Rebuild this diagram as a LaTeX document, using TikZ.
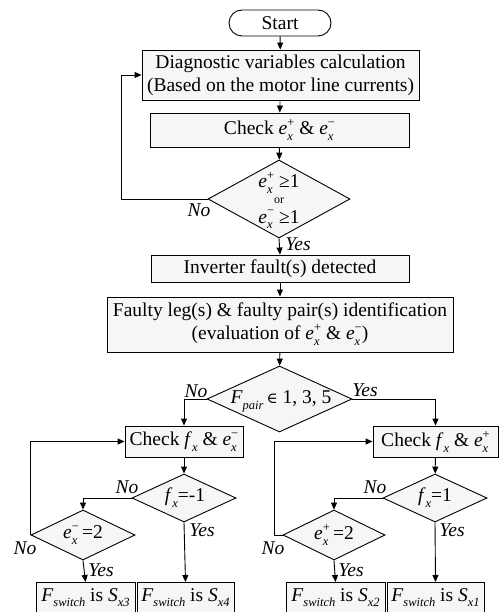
\documentclass[tikz,border=0pt]{standalone}
\usepackage{fontspec}
\setmainfont{Liberation Serif}
\newfontfamily\symf{DejaVu Serif}
\usetikzlibrary{arrows.meta,shapes.geometric}
\newcommand\fs{\fontsize{19.5}{23}\selectfont}
\newcommand\ssz{\fontsize{12.5}{12.5}\selectfont}
\newcommand\ee[1]{\textit{e}\rlap{\raisebox{0.42em}{\ssz#1}}\rlap{\raisebox{-0.3em}{\ssz\textit{x}}}\hphantom{\ssz +}}
\newcommand\fx{\textit{f}\raisebox{-0.3em}{\ssz\textit{x}}}
\newcommand\Fsw[1]{\textit{F}\raisebox{-0.25em}{\ssz\textit{switch}} is \textit{S}\raisebox{-0.25em}{\ssz\textit{x#1}}}
\begin{document}
\begin{tikzpicture}[x=1pt,y=-1pt,
  line width=0.9pt,
  box/.style={draw, fill=gray!7, inner sep=0pt, font=\fs, align=center},
  term/.style={draw, fill=white, rounded corners=13pt, minimum width=102pt, minimum height=26pt, inner sep=0pt, font=\fs},
  dia/.style={draw, diamond, fill=gray!7, inner sep=0pt},
  arr/.style={-{Triangle[length=7pt,width=6pt]}},
  lbl/.style={font=\fs\itshape, inner sep=0pt},
  dtxt/.style={inner sep=0pt, font=\fs},
  sbox/.style={box, minimum height=30pt, anchor=north}]
\useasboundingbox (0,0) rectangle (502,612);
\clip (0,0) rectangle (502,612);
% nodes
\node[term] (start) at (280,23) {Start};
\node[box, minimum width=277pt, minimum height=50pt] (diag) at (280.5,75) {Diagnostic variables calculation\\(Based on the motor line currents)};
\node[box, minimum width=259pt, minimum height=34pt] (chk1) at (279.5,130) {Check \ee{+} \& \ee{−}};
\node[dia, minimum width=142pt, minimum height=78pt] (d1) at (279,199) {};
\node[dtxt, anchor=base] (d1a) at (279,188) {\ee{+} ≥1};
\node[dtxt, anchor=base, font=\fontsize{12}{12}\selectfont] (d1b) at (279,204) {or};
\node[dtxt, anchor=base] (d1c) at (279,223) {\ee{−} ≥1};
\node[box, minimum width=258pt, minimum height=27pt] (inv) at (280,268.5) {Inverter fault(s) detected};
\node[box, minimum width=346pt, minimum height=55pt] (faulty) at (280,324.5) {Faulty leg(s) \& faulty pair(s) identification\\(evaluation of \ee{+} \& \ee{−})};
\node[dia, minimum width=145pt, minimum height=66pt] (d2) at (279.5,399) {};
\node[dtxt] (d2t) at (281,401) {\textit{F}\raisebox{-0.3em}{\ssz\textit{pair}}\,{\symf\fontsize{15}{15}\selectfont ∈} 1, 3, 5};
\node[box, minimum width=118pt, minimum height=31pt] (c2L) at (184,441.5) {Check \fx\ \& \ee{−}};
\node[box, minimum width=125pt, minimum height=31pt] (c2R) at (435.5,441.5) {Check \fx\ \& \ee{+}};
\node[dia, minimum width=104pt, minimum height=48pt] (fL) at (184,498) {};
\node[dtxt] (fLt) at (185,498) {\fx{=}-1};
\node[dia, minimum width=104pt, minimum height=48pt] (fR) at (435,498) {};
\node[dtxt] (fRt) at (435,498) {\fx{=}1};
\node[dia, minimum width=104pt, minimum height=50pt] (eL) at (83,535) {};
\node[dtxt] (eLt) at (83,535) {\ee{−}\,=2};
\node[dia, minimum width=102pt, minimum height=50pt] (eR) at (334,535) {};
\node[dtxt] (eRt) at (334,535) {\ee{+}\,=2};
\node[sbox, minimum width=99pt] (s3) at (85.5,582) {\Fsw{3}};
\node[sbox, minimum width=97pt] (s4) at (185.5,582) {\Fsw{4}};
\node[sbox, minimum width=99pt] (s2) at (335.5,582) {\Fsw{2}};
\node[sbox, minimum width=97pt] (s1) at (435.5,582) {\Fsw{1}};
% coordinates
\coordinate (l1) at (121,199);
\coordinate (lR) at (274,535);
% connectors
\draw[arr] (start) -- (diag);
\draw[arr] (diag) -- (chk1);
\draw[arr] (chk1) -- (d1);
\draw[arr] (d1.west) -- (l1) |- (diag.west);
\draw[arr] (d1.south) -- (inv.north);
\draw[arr] (inv) -- (faulty);
\draw[arr] (faulty) -- (d2);
\draw[arr] (d2.west) -| (c2L.north);
\draw[arr] (d2.east) -| (c2R.north);
\draw[arr] (c2L) -- (fL);
\draw[arr] (c2R) -- (fR);
\draw[arr] (fL.west) -| (eL.north);
\draw[arr] (fR.west) -| (eR.north);
\draw[arr] (fL.south) -- (s4.north);
\draw[arr] (fR.south) -- (s1.north);
\draw[arr] (eL.south) -- (s3.north);
\draw[arr] (eR.south) -- (s2.north);
\draw[arr] (eL.west) |- (c2L.west);
\draw[arr] (eR.west) -- (lR) |- (c2R.west);
% labels
\node[lbl] (n1) at (199,210) {No};
\node[lbl] (y1) at (298,244) {Yes};
\node[lbl] (n2) at (196,391) {No};
\node[lbl] (y2) at (365,390) {Yes};
\node[lbl] (n3) at (127,487) {No};
\node[lbl] (y3) at (202,530) {Yes};
\node[lbl] (n4) at (25,548) {No};
\node[lbl] (y4) at (101,570) {Yes};
\node[lbl] (n5) at (375,487) {No};
\node[lbl] (y5) at (452,530) {Yes};
\node[lbl] (n6) at (273,548) {No};
\node[lbl] (y6) at (351,570) {Yes};
\end{tikzpicture}
\end{document}
